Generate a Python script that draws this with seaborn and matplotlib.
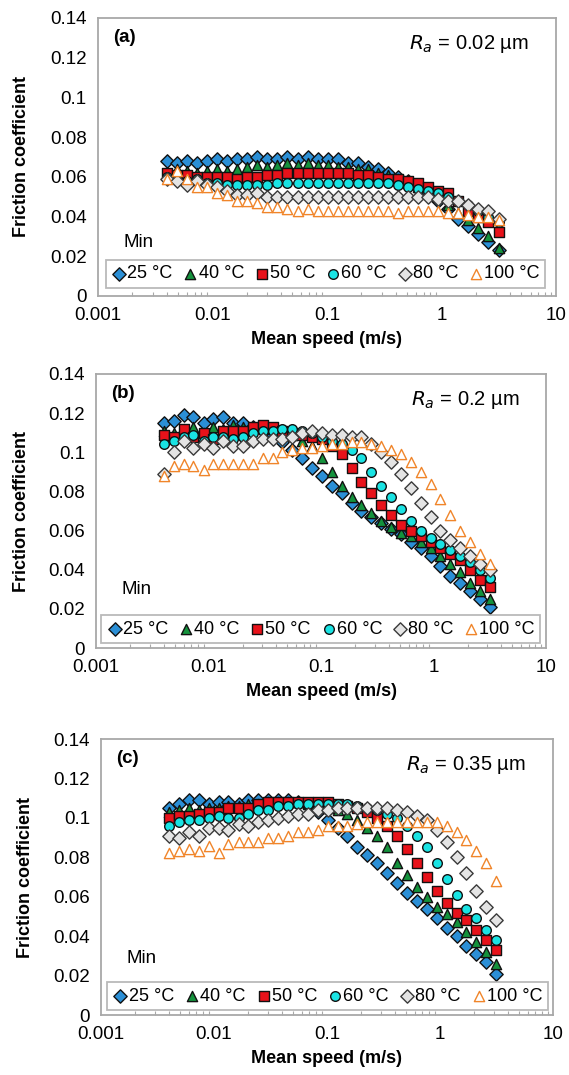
import numpy as np
import pandas as pd
import matplotlib
matplotlib.use("Agg")
import matplotlib.pyplot as plt
import seaborn as sns

# mean speed (m/s), same sweep for every run
speed = [0.0040, 0.0049, 0.0060, 0.0073, 0.0090, 0.0110, 0.0134, 0.0165, 0.0201,
         0.0247, 0.0302, 0.0370, 0.0452, 0.0554, 0.0678, 0.0829, 0.1015, 0.1243,
         0.1521, 0.1862, 0.2279, 0.2789, 0.3414, 0.4179, 0.5115, 0.6261, 0.7664,
         0.9380, 1.148, 1.405, 1.720, 2.105, 2.577, 3.154]

temps = ['25 °C', '40 °C', '50 °C', '60 °C', '80 °C', '100 °C']

# (a) Ra = 0.02 um
a_25 = [0.068, 0.067, 0.068, 0.067, 0.068, 0.069, 0.068, 0.069, 0.069, 0.070, 0.069, 0.069,
        0.070, 0.069, 0.070, 0.069, 0.069, 0.069, 0.067, 0.067, 0.065, 0.064, 0.062, 0.060,
        0.058, 0.055, 0.052, 0.048, 0.044, 0.039, 0.035, 0.031, 0.027, 0.023]
a_40 = [0.061, 0.064, 0.063, 0.062, 0.063, 0.064, 0.063, 0.064, 0.065, 0.066, 0.065, 0.066,
        0.067, 0.066, 0.067, 0.066, 0.066, 0.065, 0.065, 0.064, 0.064, 0.062, 0.061, 0.059,
        0.057, 0.055, 0.053, 0.050, 0.046, 0.042, 0.038, 0.034, 0.030, 0.024]
a_50 = [0.062, 0.061, 0.061, 0.060, 0.060, 0.060, 0.060, 0.059, 0.060, 0.060, 0.061, 0.061,
        0.062, 0.062, 0.062, 0.062, 0.062, 0.062, 0.062, 0.061, 0.061, 0.060, 0.059, 0.059,
        0.058, 0.057, 0.055, 0.053, 0.052, 0.048, 0.043, 0.040, 0.037, 0.032]
a_60 = [0.060, 0.059, 0.058, 0.059, 0.057, 0.057, 0.056, 0.056, 0.056, 0.056, 0.056, 0.057,
        0.057, 0.057, 0.057, 0.057, 0.057, 0.057, 0.057, 0.057, 0.057, 0.057, 0.057, 0.056,
        0.055, 0.054, 0.053, 0.052, 0.050, 0.048, 0.046, 0.043, 0.040, 0.037]
a_80 = [0.059, 0.058, 0.056, 0.058, 0.056, 0.055, 0.053, 0.051, 0.051, 0.052, 0.050, 0.050,
        0.050, 0.050, 0.050, 0.050, 0.050, 0.050, 0.050, 0.050, 0.050, 0.050, 0.050, 0.050,
        0.050, 0.050, 0.050, 0.049, 0.048, 0.048, 0.046, 0.044, 0.043, 0.039]
a_100 = [0.059, 0.063, 0.059, 0.055, 0.055, 0.052, 0.051, 0.048, 0.048, 0.047, 0.045, 0.045,
         0.044, 0.043, 0.044, 0.043, 0.043, 0.043, 0.043, 0.043, 0.043, 0.043, 0.043, 0.042,
         0.043, 0.043, 0.043, 0.043, 0.042, 0.042, 0.041, 0.040, 0.040, 0.038]

# (b) Ra = 0.2 um
b_25 = [0.115, 0.116, 0.119, 0.118, 0.115, 0.117, 0.118, 0.115, 0.115, 0.113, 0.112, 0.109,
        0.105, 0.101, 0.097, 0.092, 0.088, 0.083, 0.079, 0.074, 0.070, 0.067, 0.064, 0.061,
        0.058, 0.054, 0.051, 0.047, 0.042, 0.037, 0.033, 0.029, 0.025, 0.021]
b_40 = [0.111, 0.110, 0.112, 0.113, 0.110, 0.113, 0.112, 0.114, 0.113, 0.113, 0.113, 0.112,
        0.111, 0.109, 0.106, 0.103, 0.097, 0.090, 0.083, 0.077, 0.073, 0.069, 0.065, 0.062,
        0.059, 0.057, 0.054, 0.051, 0.047, 0.043, 0.039, 0.033, 0.029, 0.025]
b_50 = [0.109, 0.108, 0.112, 0.108, 0.110, 0.107, 0.111, 0.111, 0.111, 0.113, 0.114, 0.113,
        0.111, 0.110, 0.109, 0.108, 0.107, 0.103, 0.099, 0.092, 0.085, 0.079, 0.073, 0.068,
        0.063, 0.060, 0.057, 0.054, 0.051, 0.048, 0.045, 0.040, 0.035, 0.031]
b_60 = [0.104, 0.106, 0.108, 0.109, 0.106, 0.108, 0.108, 0.107, 0.108, 0.110, 0.111, 0.111,
        0.112, 0.112, 0.111, 0.110, 0.108, 0.106, 0.104, 0.101, 0.097, 0.090, 0.083, 0.077,
        0.071, 0.065, 0.060, 0.056, 0.053, 0.050, 0.047, 0.044, 0.040, 0.036]
b_80 = [0.089, 0.100, 0.106, 0.102, 0.104, 0.102, 0.106, 0.103, 0.103, 0.106, 0.107, 0.107,
        0.107, 0.108, 0.110, 0.111, 0.110, 0.109, 0.109, 0.108, 0.108, 0.104, 0.100, 0.095,
        0.089, 0.082, 0.074, 0.067, 0.060, 0.055, 0.051, 0.047, 0.043, 0.040]
b_100 = [0.088, 0.093, 0.094, 0.093, 0.091, 0.094, 0.094, 0.094, 0.094, 0.094, 0.097, 0.097,
         0.100, 0.101, 0.102, 0.102, 0.103, 0.104, 0.104, 0.105, 0.105, 0.104, 0.103, 0.101,
         0.099, 0.095, 0.090, 0.084, 0.076, 0.068, 0.060, 0.054, 0.048, 0.043]

# (c) Ra = 0.35 um
c_25 = [0.105, 0.107, 0.109, 0.109, 0.107, 0.108, 0.108, 0.107, 0.109, 0.109, 0.109, 0.109,
        0.109, 0.108, 0.106, 0.103, 0.099, 0.095, 0.091, 0.085, 0.081, 0.077, 0.072, 0.067,
        0.062, 0.058, 0.054, 0.049, 0.044, 0.040, 0.035, 0.031, 0.027, 0.021]
c_40 = [0.103, 0.104, 0.105, 0.104, 0.105, 0.105, 0.106, 0.106, 0.107, 0.107, 0.108, 0.108,
        0.108, 0.108, 0.107, 0.106, 0.105, 0.104, 0.102, 0.099, 0.095, 0.091, 0.085, 0.077,
        0.071, 0.065, 0.060, 0.055, 0.051, 0.047, 0.042, 0.037, 0.032, 0.026]
c_50 = [0.100, 0.101, 0.101, 0.102, 0.103, 0.103, 0.105, 0.105, 0.105, 0.107, 0.108, 0.108,
        0.108, 0.108, 0.108, 0.108, 0.108, 0.107, 0.106, 0.105, 0.103, 0.100, 0.096, 0.091,
        0.084, 0.077, 0.070, 0.063, 0.057, 0.052, 0.048, 0.043, 0.038, 0.033]
c_60 = [0.096, 0.098, 0.099, 0.099, 0.100, 0.101, 0.100, 0.100, 0.102, 0.104, 0.104, 0.106,
        0.106, 0.107, 0.107, 0.107, 0.107, 0.107, 0.107, 0.106, 0.105, 0.104, 0.102, 0.100,
        0.096, 0.091, 0.085, 0.077, 0.069, 0.061, 0.054, 0.049, 0.043, 0.038]
c_80 = [0.091, 0.090, 0.093, 0.091, 0.095, 0.095, 0.094, 0.097, 0.096, 0.098, 0.099, 0.100,
        0.101, 0.102, 0.102, 0.104, 0.104, 0.105, 0.105, 0.105, 0.105, 0.105, 0.105, 0.104,
        0.103, 0.101, 0.099, 0.094, 0.088, 0.080, 0.072, 0.063, 0.055, 0.048]
c_100 = [0.082, 0.083, 0.084, 0.083, 0.086, 0.082, 0.087, 0.088, 0.088, 0.088, 0.090, 0.090,
         0.091, 0.093, 0.093, 0.094, 0.096, 0.096, 0.096, 0.097, 0.098, 0.098, 0.098, 0.098,
         0.098, 0.098, 0.098, 0.098, 0.096, 0.093, 0.089, 0.083, 0.077, 0.068]

panels = [
    ('(a)', '0.02', [a_25, a_40, a_50, a_60, a_80, a_100]),
    ('(b)', '0.2', [b_25, b_40, b_50, b_60, b_80, b_100]),
    ('(c)', '0.35', [c_25, c_40, c_50, c_60, c_80, c_100]),
]

yticks = [0, 0.02, 0.04, 0.06, 0.08, 0.1, 0.12, 0.14]
ytick_labels = ['0', '0.02', '0.04', '0.06', '0.08', '0.1', '0.12', '0.14']
xticks = [0.001, 0.01, 0.1, 1, 10]
xtick_labels = ['0.001', '0.01', '0.1', '1', '10']

# marker, face colour, edge colour per series
styles = [
    ('D', '#2b8fd6', '#111111'),
    ('^', '#14923c', '#111111'),
    ('s', '#e8121a', '#111111'),
    ('o', '#19e3e3', '#111111'),
    ('D', '#e4e4e4', '#3a3a3a'),
    ('^', 'white', '#f0852a'),
]
sizes = [46, 54, 44, 48, 46, 54]

sns.set_style('white')
plt.rcParams['font.family'] = ['Liberation Sans', 'DejaVu Sans']
plt.rcParams['text.color'] = 'black'
plt.rcParams['axes.labelcolor'] = 'black'
plt.rcParams['xtick.labelcolor'] = 'black'
plt.rcParams['ytick.labelcolor'] = 'black'

fig = plt.figure(figsize=(5.69, 10.75), dpi=100)
# axes boxes in figure fractions
boxes = [
    [0.172, 0.7247, 0.805, 0.2586],
    [0.169, 0.3972, 0.791, 0.2549],
    [0.1775, 0.0558, 0.794, 0.2567],
]
legend_boxes = [
    (0.017, 0.029, 0.959, 0.093),
    (0.011, 0.018, 0.976, 0.102),
    (0.013, 0.018, 0.976, 0.105),
]
min_y = [0.194, 0.212, 0.203]
grey = '#a8a8a8'

for (tag, ra, series), box, lbox, my in zip(panels, boxes, legend_boxes, min_y):
    ax = fig.add_axes(box)
    rows = []
    for t, vals in zip(temps, series):
        rows.append(pd.DataFrame({'speed': speed, 'friction': vals, 'temp': t}))
    df = pd.concat(rows, ignore_index=True)

    for t, (mk, fc, ec), s in zip(temps, styles, sizes):
        sub = df[df['temp'] == t]
        sns.scatterplot(data=sub, x='speed', y='friction', marker=mk, color=fc,
                        edgecolor=ec, linewidth=1.0, s=s, ax=ax, label=t, zorder=3)

    ax.set_xscale('log')
    ax.set_xlim(0.001, 10)
    ax.set_ylim(0, 0.14)
    ax.set_xticks(xticks)
    ax.set_xticklabels(xtick_labels)
    ax.set_yticks(yticks)
    ax.set_yticklabels(ytick_labels)
    ax.tick_params(axis='both', which='major', labelsize=13.5, color=grey,
                   length=5, width=1, direction='out', pad=3)
    ax.tick_params(axis='x', which='minor', color=grey, length=3, width=0.8,
                   direction='in', bottom=True)
    for sp in ax.spines.values():
        sp.set_color(grey)
        sp.set_linewidth(1.3)

    ax.set_xlabel('Mean speed (m/s)', fontsize=13, fontweight='bold', labelpad=5)
    ax.set_ylabel('Friction coefficient', fontsize=13, fontweight='bold')
    ax.yaxis.set_label_coords(-0.148, 0.5)

    ax.text(0.033, 0.928, tag, transform=ax.transAxes, fontsize=13.5,
            fontweight='bold', va='center', ha='left')
    ax.text(0.94, 0.905, r'$R_a$ = ' + ra + ' µm', transform=ax.transAxes,
            fontsize=14.5, va='center', ha='right')
    ax.text(0.057, my, 'Min', transform=ax.transAxes, fontsize=13.5,
            va='center', ha='left')

    leg = ax.legend(loc='lower left', bbox_to_anchor=lbox, mode='expand', ncol=6,
                    fontsize=13, frameon=True, fancybox=False, edgecolor=grey,
                    handletextpad=0.0, columnspacing=0.2, handlelength=0.9,
                    borderpad=0.3, borderaxespad=0)
    leg.get_frame().set_linewidth(1.3)

fig.savefig('out.png', dpi=100)
